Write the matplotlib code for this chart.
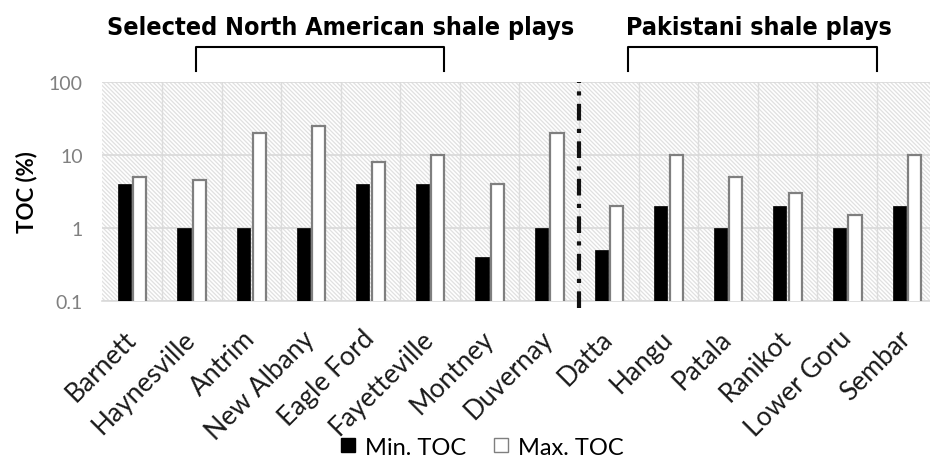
import matplotlib
matplotlib.use("Agg")
import matplotlib.pyplot as plt
from matplotlib.patches import Rectangle
from matplotlib.lines import Line2D
from matplotlib import font_manager
import numpy as np

plays = ["Barnett", "Haynesville", "Antrim", "New Albany", "Eagle Ford",
         "Fayetteville", "Montney", "Duvernay", "Datta", "Hangu", "Patala",
         "Ranikot", "Lower Goru", "Sembar"]
min_toc = [4, 1, 1, 1, 4, 4, 0.4, 1, 0.5, 2, 1, 2, 1, 2]
max_toc = [5, 4.5, 20, 25, 8, 10, 4, 20, 2, 10, 5, 3, 1.5, 10]
y_ticks = [0.1, 1, 10, 100]
y_tick_labels = ["0.1", "1", "10", "100"]
group_labels = ["Selected North American shale plays", "Pakistani shale plays"]

body_font = ["Lato", "DejaVu Sans"]
plt.rcParams["font.family"] = body_font
plt.rcParams["hatch.linewidth"] = 0.9

# condensed bold face for the group titles, if one is available
title_props = dict(family="DejaVu Sans", stretch="condensed", weight="bold")
title_size = 18
found = font_manager.findfont(font_manager.FontProperties(**title_props))
if "Condensed" not in found:
    title_props = dict(family="Roboto", weight="bold")
    title_size = 17

fig = plt.figure(figsize=(9.3, 4.6), dpi=100)
ax = fig.add_axes([0.1101, 0.3435, 0.897, 0.476])
ax.set_facecolor("white")

# hatched plot background
ax.add_patch(Rectangle((0, 0), 1, 1, transform=ax.transAxes, facecolor="white",
                       edgecolor="#e0e0e0", linewidth=0,
                       hatch="\\\\\\\\\\\\\\\\", zorder=0.1))

x = np.arange(len(plays))
w = 0.22
off = 0.13
ax.bar(x - off, min_toc, width=w, color="black", edgecolor="black",
       linewidth=0.5, zorder=3, label="Min. TOC")
ax.bar(x + off, max_toc, width=w, color="white", edgecolor="#7f7f7f",
       linewidth=1.6, zorder=3, label="Max. TOC")

ax.set_yscale("log")
ax.set_ylim(0.1, 100)
ax.set_xlim(-0.5, len(plays) - 0.5)
ax.set_yticks(y_ticks)
ax.set_yticklabels(y_tick_labels, color="#808080", fontsize=14)
ax.yaxis.set_minor_locator(matplotlib.ticker.NullLocator())
ax.tick_params(axis="y", length=0, pad=14)

ax.set_xticks(x)
ax.set_xticklabels(plays, rotation=45, ha="right", va="center",
                   rotation_mode="anchor", fontsize=19, color="#1a1a1a")
ax.tick_params(axis="x", length=0, pad=24)
ax.set_xticks(np.arange(0.5, len(plays) - 1, 1.0), minor=True)
ax.tick_params(axis="x", which="minor", length=0)

ax.grid(True, axis="y", which="major", color="#d9d9d9", linewidth=1.2, zorder=1)
ax.grid(True, axis="x", which="minor", color="#dcdcdc", linewidth=1.0, zorder=1)
ax.grid(False, axis="x", which="major")
ax.set_axisbelow(True)

for s in ("left", "top", "right"):
    ax.spines[s].set_visible(False)
ax.spines["bottom"].set_color("#d9d9d9")
ax.spines["bottom"].set_linewidth(1.2)

ax.set_ylabel("TOC (%)", fontsize=16, fontweight="bold", labelpad=8)

# divider between the two groups of plays
xt = ax.get_xaxis_transform()
ax.plot([7.5, 7.5], [-0.03, 1.0], transform=xt, color="#111111", linewidth=3,
        linestyle=(0, (4, 2, 1, 2)), clip_on=False, zorder=4)

# group brackets and titles
for (x0, x1), label, xc in zip([(1.07, 5.23), (8.32, 12.5)], group_labels,
                               [3.49, 10.52]):
    ax.plot([x0, x0, x1, x1], [1.05, 1.16, 1.16, 1.05], transform=xt,
            color="black", linewidth=1.5, clip_on=False)
    ax.text(xc, 1.25, label, transform=xt, ha="center", va="center",
            fontsize=title_size, **title_props)

handles = [Line2D([], [], marker="s", linestyle="none", markersize=10,
                  markerfacecolor="black", markeredgecolor="black"),
           Line2D([], [], marker="s", linestyle="none", markersize=10,
                  markerfacecolor="white", markeredgecolor="#7f7f7f")]
fig.legend(handles, ["Min. TOC", "Max. TOC"], loc="center",
           bbox_to_anchor=(0.516, 0.026), ncol=2, frameon=False, fontsize=17,
           handletextpad=0.2, columnspacing=1.0, handlelength=1.0)

fig.savefig("out.png", dpi=100)
